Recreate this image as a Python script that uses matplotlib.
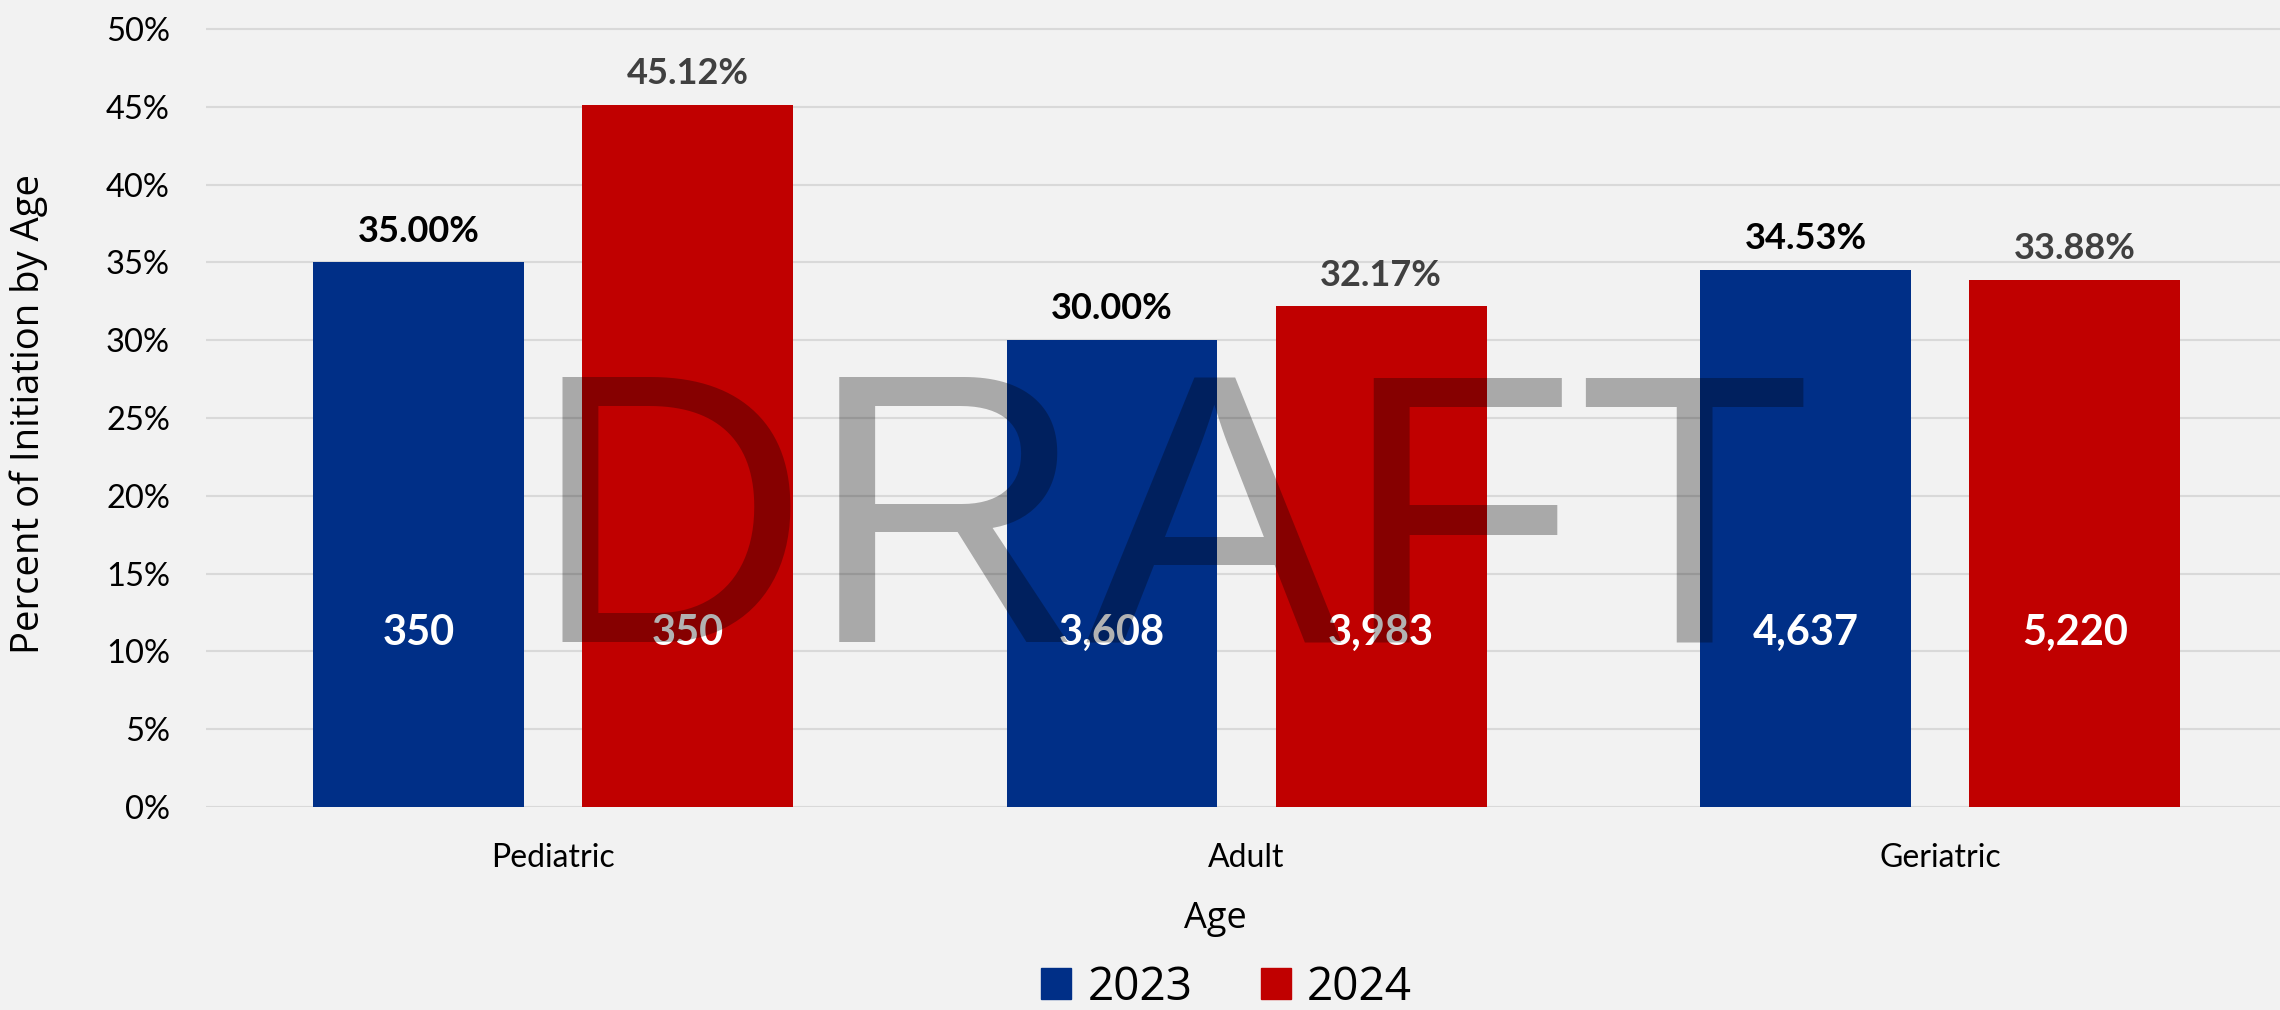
import matplotlib
matplotlib.use("Agg")
import matplotlib.pyplot as plt
import matplotlib.patches as mpatches
import numpy as np

plt.rcParams['font.family'] = ['Lato', 'DejaVu Sans']

categories = ['Pediatric', 'Adult', 'Geriatric']
years = ['2023', '2024']
pct_2023 = [0.3500, 0.3000, 0.3453]
pct_2024 = [0.4512, 0.3217, 0.3388]
count_2023 = [350, 3608, 4637]
count_2024 = [350, 3983, 5220]
yticks = [0, 0.05, 0.10, 0.15, 0.20, 0.25, 0.30, 0.35, 0.40, 0.45, 0.50]

blue = '#002F87'
red = '#C00000'
bg = '#F2F2F2'

fig = plt.figure(figsize=(22.8, 10.1), dpi=100, facecolor=bg)
ax = fig.add_axes([0.0904, 0.2010, 0.9127, 0.7780])
ax.set_facecolor(bg)

x = np.arange(len(categories))
w = 0.304
off = 0.194
b1 = ax.bar(x - off, pct_2023, w, color=blue, zorder=2)
b2 = ax.bar(x + off, pct_2024, w, color=red, zorder=2)

# percent labels on top
for bars, vals, col in [(b1, pct_2023, 'black'), (b2, pct_2024, '#404040')]:
    for r, v in zip(bars, vals):
        ax.annotate(f'{v*100:.2f}%', (r.get_x() + r.get_width() / 2, v),
                    xytext=(0, 15), textcoords='offset points',
                    ha='center', va='baseline', fontsize=26,
                    fontweight='bold', color=col, zorder=3)

# counts inside the bars
for bars, vals in [(b1, count_2023), (b2, count_2024)]:
    for r, n in zip(bars, vals):
        ax.text(r.get_x() + r.get_width() / 2, 0.104, f'{n:,}',
                ha='center', va='baseline', fontsize=30,
                fontweight='bold', color='white', zorder=3)

ax.set_xlim(-0.5, 2.5)
ax.set_ylim(0, 0.505)
ax.set_yticks(yticks)
ax.set_yticklabels([f'{int(round(t*100))}%' for t in yticks])
ax.set_xticks(x)
ax.set_xticklabels(categories)
ax.tick_params(axis='y', length=0, pad=26, labelsize=23.5)
ax.tick_params(axis='x', length=0, pad=26, labelsize=23)
ax.grid(axis='y', color='#D9D9D9', linewidth=1.5, zorder=0)
ax.set_axisbelow(True)
for s in ax.spines.values():
    s.set_visible(False)

ax.set_xlabel('Age', family=['Open Sans', 'DejaVu Sans'], fontsize=26)
ax.xaxis.set_label_coords(0.485, -0.120)
ax.set_ylabel('Percent of Initiation by Age', family=['Open Sans', 'DejaVu Sans'],
              fontsize=27.5)
ax.yaxis.set_label_coords(-0.076, 0.5)

handles = [mpatches.Patch(color=blue, label=years[0]),
           mpatches.Patch(color=red, label=years[1])]
fig.legend(handles=handles, loc='center', bbox_to_anchor=(0.538, 0.022), ncol=2,
           frameon=False, prop={'family': ['Open Sans', 'DejaVu Sans'], 'size': 33},
           handlelength=0.65, handleheight=0.65, handletextpad=0.35,
           columnspacing=1.5)

# watermark
fig.text(0.514, 1 - 642 / 1010, 'DRAFT', family=['Liberation Sans', 'DejaVu Sans'],
         fontsize=277, color='black', alpha=0.3, ha='center', va='baseline', zorder=10)

fig.savefig('out.png', dpi=100, facecolor=bg)
